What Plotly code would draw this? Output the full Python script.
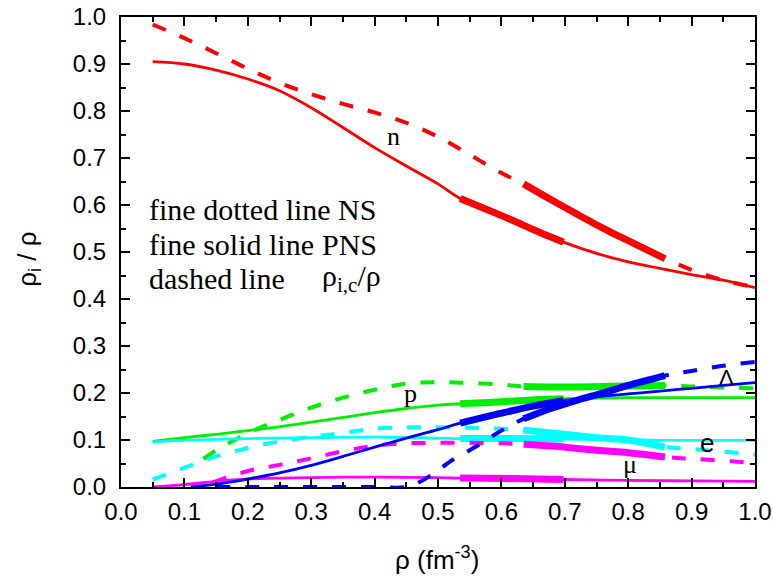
import plotly.graph_objects as go

# ---------------- data ----------------
x_n_solid = [0.05, 0.10, 0.15, 0.20, 0.25, 0.30, 0.35, 0.40, 0.45, 0.50, 0.535, 0.58, 0.62, 0.66, 0.698, 0.75, 0.80, 0.85, 0.90, 0.95, 1.00]
y_n_solid = [0.905, 0.900, 0.887, 0.868, 0.843, 0.807, 0.765, 0.722, 0.683, 0.645, 0.614, 0.589, 0.566, 0.542, 0.521, 0.497, 0.479, 0.465, 0.452, 0.440, 0.424]
x_n_dash = [0.05, 0.10, 0.15, 0.20, 0.25, 0.30, 0.35, 0.40, 0.45, 0.50, 0.55, 0.60, 0.635, 0.68, 0.72, 0.76, 0.80, 0.858, 0.90, 0.95, 1.00]
y_n_dash = [0.984, 0.955, 0.923, 0.890, 0.860, 0.836, 0.815, 0.797, 0.775, 0.745, 0.707, 0.668, 0.645, 0.610, 0.580, 0.551, 0.524, 0.486, 0.462, 0.440, 0.425]

x_p_solid = [0.05, 0.10, 0.15, 0.20, 0.25, 0.30, 0.35, 0.40, 0.45, 0.50, 0.535, 0.58, 0.62, 0.66, 0.698, 0.75, 0.80, 0.85, 0.90, 0.95, 1.00]
y_p_solid = [0.097, 0.105, 0.112, 0.120, 0.128, 0.138, 0.148, 0.158, 0.167, 0.174, 0.177, 0.180, 0.183, 0.186, 0.188, 0.189, 0.190, 0.190, 0.190, 0.190, 0.190]
x_p_dash = [0.13, 0.15, 0.20, 0.25, 0.30, 0.35, 0.40, 0.45, 0.50, 0.55, 0.60, 0.635, 0.68, 0.72, 0.76, 0.80, 0.858, 0.90, 0.95, 1.00]
y_p_dash = [0.060, 0.078, 0.114, 0.143, 0.169, 0.190, 0.207, 0.220, 0.223, 0.221, 0.218, 0.214, 0.213, 0.213, 0.214, 0.215, 0.216, 0.214, 0.212, 0.210]

x_L_solid = [0.11, 0.15, 0.20, 0.25, 0.30, 0.35, 0.40, 0.45, 0.50, 0.535, 0.60, 0.65, 0.698, 0.75, 0.80, 0.85, 0.90, 0.95, 1.00]
y_L_solid = [0.000, 0.006, 0.017, 0.030, 0.046, 0.065, 0.085, 0.104, 0.122, 0.136, 0.157, 0.172, 0.184, 0.192, 0.198, 0.204, 0.210, 0.216, 0.222]
x_L_dash = [0.15, 0.20, 0.25, 0.30, 0.35, 0.40, 0.45, 0.47, 0.50, 0.52, 0.56, 0.60, 0.635, 0.68, 0.72, 0.76, 0.80, 0.858, 0.90, 0.95, 1.00]
y_L_dash = [0.000, 0.000, 0.000, 0.000, 0.000, 0.000, 0.000, 0.010, 0.035, 0.055, 0.086, 0.120, 0.145, 0.168, 0.185, 0.200, 0.216, 0.237, 0.247, 0.258, 0.266]

x_e_solid = [0.05, 0.10, 0.20, 0.30, 0.40, 0.50, 0.535, 0.62, 0.698, 0.80, 0.90, 1.00]
y_e_solid = [0.096, 0.099, 0.103, 0.105, 0.106, 0.104, 0.103, 0.103, 0.102, 0.100, 0.099, 0.099]
x_e_dash = [0.05, 0.10, 0.15, 0.20, 0.25, 0.30, 0.35, 0.40, 0.45, 0.50, 0.55, 0.60, 0.635, 0.68, 0.72, 0.76, 0.80, 0.858, 0.90, 0.95, 1.00]
y_e_dash = [0.016, 0.041, 0.065, 0.083, 0.097, 0.107, 0.115, 0.124, 0.127, 0.127, 0.126, 0.124, 0.121, 0.115, 0.109, 0.104, 0.100, 0.085, 0.081, 0.075, 0.069]

x_mu_solid = [0.05, 0.10, 0.15, 0.20, 0.25, 0.30, 0.35, 0.40, 0.50, 0.535, 0.62, 0.698, 0.80, 0.90, 1.00]
y_mu_solid = [0.000, 0.005, 0.012, 0.017, 0.019, 0.020, 0.021, 0.021, 0.020, 0.019, 0.018, 0.016, 0.014, 0.013, 0.012]
x_mu_dash = [0.145, 0.20, 0.25, 0.30, 0.35, 0.40, 0.45, 0.50, 0.55, 0.60, 0.635, 0.68, 0.72, 0.76, 0.80, 0.858, 0.90, 0.95, 1.00]
y_mu_dash = [0.010, 0.034, 0.047, 0.061, 0.076, 0.088, 0.093, 0.094, 0.094, 0.093, 0.091, 0.087, 0.082, 0.077, 0.073, 0.064, 0.060, 0.056, 0.051]

thick_solid_range = (0.535, 0.698)
thick_dash_range = (0.635, 0.858)

species_labels = ["n", "p", "Λ", "e", "μ"]
label_x = [0.430, 0.456, 0.955, 0.924, 0.803]
label_y = [0.746, 0.199, 0.234, 0.094, 0.047]

xticks = [0.0, 0.1, 0.2, 0.3, 0.4, 0.5, 0.6, 0.7, 0.8, 0.9, 1.0]
xticklabels = ["0.0", "0.1", "0.2", "0.3", "0.4", "0.5", "0.6", "0.7", "0.8", "0.9", "1.0"]
yticks = xticks
yticklabels = xticklabels

note_lines = ["fine dotted line NS", "fine solid line", "dashed line"]
note_right = ["", "PNS", "ρ<sub>i,c</sub>/ρ"]
note_y = [0.591, 0.516, 0.444]

x_title = "ρ (fm<sup>-3</sup>)"
y_title = "ρ<sub>i</sub> / ρ"

# ---------------- figure ----------------
fig = go.Figure()

series = [
    ("#FF0000", x_n_solid, y_n_solid, x_n_dash, y_n_dash),
    ("#00EE00", x_p_solid, y_p_solid, x_p_dash, y_p_dash),
    ("#00FFFF", x_e_solid, y_e_solid, x_e_dash, y_e_dash),
    ("#FF00FF", x_mu_solid, y_mu_solid, x_mu_dash, y_mu_dash),
    ("#0000FF", x_L_solid, y_L_solid, x_L_dash, y_L_dash),
]

def sub(xs, ys, rng):
    pts = [(a, b) for a, b in zip(xs, ys) if rng[0] - 1e-9 <= a <= rng[1] + 1e-9]
    return [p[0] for p in pts], [p[1] for p in pts]

for col, xs, ys, xd, yd in series:
    fig.add_trace(go.Scatter(x=xs, y=ys, mode="lines", line=dict(color=col, width=2.8, shape="spline"),
                             showlegend=False, hoverinfo="skip"))
    fig.add_trace(go.Scatter(x=xd, y=yd, mode="lines", line=dict(color=col, width=4, dash="14px,15px", shape="spline"),
                             showlegend=False, hoverinfo="skip"))
    tx, ty = sub(xs, ys, thick_solid_range)
    fig.add_trace(go.Scatter(x=tx, y=ty, mode="lines", line=dict(color=col, width=7, shape="spline"),
                             showlegend=False, hoverinfo="skip"))
    tx, ty = sub(xd, yd, thick_dash_range)
    fig.add_trace(go.Scatter(x=tx, y=ty, mode="lines", line=dict(color=col, width=7, shape="spline"),
                             showlegend=False, hoverinfo="skip"))

label_fonts = ["Liberation Serif", "Liberation Serif", "Liberation Sans", "Liberation Sans", "Liberation Serif"]
label_sizes = [26, 26, 22, 26, 26]
for lab, lx, ly, lf, ls in zip(species_labels, label_x, label_y, label_fonts, label_sizes):
    fig.add_annotation(x=lx, y=ly, text=lab, showarrow=False, xref="x", yref="y",
                       xanchor="center", yanchor="middle",
                       font=dict(family=lf, size=ls, color="black"))

for t, r, ny in zip(note_lines, note_right, note_y):
    fig.add_annotation(x=0.041, y=ny, text=t, showarrow=False, xref="x", yref="y", xanchor="left", yanchor="middle",
                       font=dict(family="Liberation Serif", size=30, color="black"))
    if r:
        fig.add_annotation(x=0.314, y=ny, text=r, showarrow=False, xref="x", yref="y", xanchor="left", yanchor="middle",
                           font=dict(family="Liberation Serif", size=30, color="black"))

# axis titles placed as paper annotations
fig.add_annotation(x=0.499, y=-0.152, xref="paper", yref="paper", text=x_title, showarrow=False,
                   xanchor="center", yanchor="middle",
                   font=dict(family="Liberation Sans", size=26, color="black"))
fig.add_annotation(x=-0.147, y=0.485, xref="paper", yref="paper", text=y_title, showarrow=False, textangle=-90,
                   xanchor="center", yanchor="middle",
                   font=dict(family="Liberation Sans", size=26, color="black"))

axis_common = dict(
    showline=True, linecolor="black", linewidth=2, mirror="allticks",
    ticks="inside", ticklen=9, tickwidth=1.5, tickcolor="black",
    showgrid=False, zeroline=False, range=[0, 1], automargin=False,
    tickfont=dict(family="Liberation Sans", size=24, color="black"),
    ticklabeloverflow="allow",
    minor=dict(ticks="inside", ticklen=5, tickwidth=1.5, tickcolor="black", dtick=0.05, showgrid=False),
)

fig.update_layout(
    width=773, height=581,
    margin=dict(l=121, r=18, t=17, b=94, autoexpand=False),
    paper_bgcolor="white", plot_bgcolor="white",
    xaxis=dict(axis_common, tickvals=xticks, ticktext=xticklabels, ticklabelstandoff=2),
    yaxis=dict(axis_common, tickvals=yticks, ticktext=yticklabels, ticklabelstandoff=8),
)

fig.write_html("out.html", config={"displayModeBar": False},
               post_script="document.body.style.margin='0px';document.body.style.overflow='hidden';")
